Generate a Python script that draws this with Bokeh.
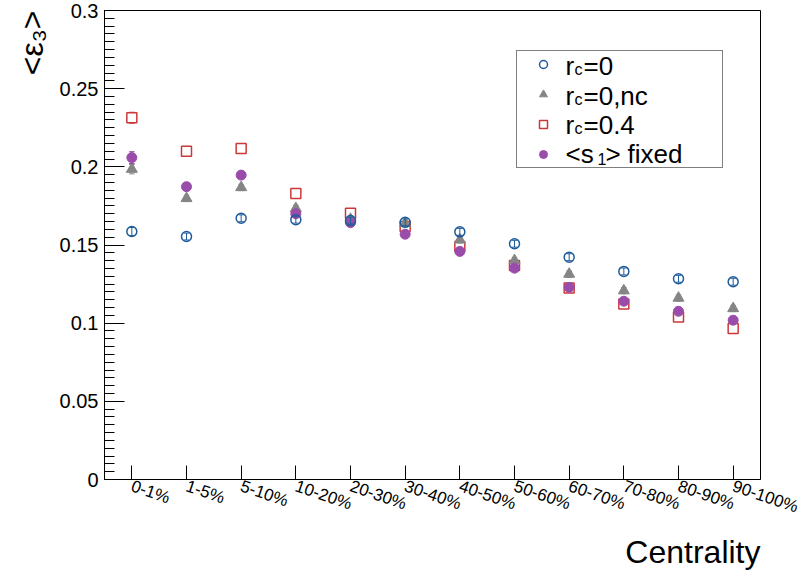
from bokeh.plotting import figure
from bokeh.models import (ColumnDataSource, FixedTicker, Range1d, Legend,
                          LegendItem, Label, Title)
from bokeh.embed import file_html
from bokeh.resources import INLINE

# ---------------- data ----------------
centrality = ["0-1%", "1-5%", "5-10%", "10-20%", "20-30%", "30-40%",
              "40-50%", "50-60%", "60-70%", "70-80%", "80-90%", "90-100%"]

rc0 = [0.1586, 0.1554, 0.1671, 0.1662, 0.1656, 0.1645,
       0.1584, 0.1508, 0.1422, 0.1331, 0.1284, 0.1265]
rc0_err = [0.0026, 0.0022, 0.0022, 0.0022, 0.0022, 0.0022,
           0.0022, 0.0022, 0.0022, 0.0022, 0.0022, 0.0022]

rc0nc = [0.1985, 0.1798, 0.1868, 0.1734, 0.1665, 0.1639,
         0.1533, 0.1401, 0.1314, 0.1208, 0.1161, 0.1094]
rc0nc_err = [0.0030, 0.0020, 0.0020, 0.0020, 0.0020, 0.0020,
             0.0020, 0.0020, 0.0020, 0.0020, 0.0020, 0.0020]

rc04 = [0.2314, 0.2100, 0.2117, 0.1830, 0.1703, 0.1618,
        0.1490, 0.1369, 0.1225, 0.1123, 0.1040, 0.0966]
rc04_err = [0.0035, 0.0020, 0.0020, 0.0020, 0.0020, 0.0020,
            0.0020, 0.0020, 0.0020, 0.0020, 0.0020, 0.0020]

s1fixed = [0.2059, 0.1873, 0.1947, 0.1700, 0.1643, 0.1569,
           0.1459, 0.1352, 0.1229, 0.1140, 0.1076, 0.1019]
s1fixed_err = [0.0038, 0.0020, 0.0020, 0.0020, 0.0020, 0.0020,
               0.0020, 0.0020, 0.0020, 0.0020, 0.0020, 0.0020]

y_ticks = [0.0, 0.05, 0.1, 0.15, 0.2, 0.25, 0.3]
y_tick_labels = ["0", "0.05", "0.1", "0.15", "0.2", "0.25", "0.3"]

# ---------------- style ----------------
FONT = "Liberation Sans"
BLUE = "#1f5c9c"
GRAY = "#858585"
RED = "#cc3838"
PURPLE = "#9a4cab"

FRAME_LEFT = 104      # canvas px of the frame's left edge
FRAME_BOTTOM = 479    # canvas px of the frame's bottom edge

xs = list(range(len(centrality)))

p = figure(width=803, height=572, output_backend="svg", toolbar_location=None,
           x_range=Range1d(-0.5, len(centrality) - 0.5), y_range=Range1d(0, 0.3),
           min_border_left=FRAME_LEFT, min_border_right=43, min_border_top=10,
           min_border_bottom=572 - FRAME_BOTTOM)
p.grid.visible = False
p.outline_line_color = "black"
p.outline_line_width = 1
p.background_fill_color = "white"
p.border_fill_color = "white"

# y axis
ya = p.yaxis[0]
minor = [round(0.005 * k, 4) for k in range(0, 61)]
ya.ticker = FixedTicker(ticks=y_ticks, minor_ticks=minor)
ya.major_label_overrides = {t: l for t, l in zip(y_ticks, y_tick_labels)}
ya.major_tick_in = 20
ya.major_tick_out = 0
ya.minor_tick_in = 10
ya.minor_tick_out = 0
ya.major_label_text_font = FONT
ya.major_label_text_font_size = "20px"
ya.major_label_text_color = "black"
ya.major_label_standoff = 6
ya.axis_line_color = "black"
ya.major_tick_line_color = "black"
ya.minor_tick_line_color = "black"

# x axis
xa = p.xaxis[0]
xa.ticker = FixedTicker(ticks=xs, minor_ticks=[])
xa.major_label_overrides = {i: c for i, c in enumerate(centrality)}
xa.major_label_orientation = -0.33
xa.major_tick_in = 14
xa.major_tick_out = 0
xa.minor_tick_line_color = None
xa.major_label_text_font = FONT
xa.major_label_text_font_size = "17px"
xa.major_label_text_color = "black"
xa.major_label_standoff = 6
xa.axis_line_color = "black"
xa.major_tick_line_color = "black"

# axis titles
x_title = Title(text="Centrality", align="right", text_font=FONT,
                text_font_size="32px", text_font_style="normal",
                text_color="black")
y_title = Title(text="<\u03b5\u2083>", align="right", text_font=FONT,
                text_font_size="32px", text_font_style="normal",
                text_color="black")
if "standoff" in Title.properties():
    x_title.standoff = 6
    y_title.standoff = 13
p.add_layout(x_title, "below")
p.add_layout(y_title, "left")


def err_src(vals, errs):
    return ColumnDataSource(dict(
        x=xs, y=vals,
        lo=[v - e for v, e in zip(vals, errs)],
        hi=[v + e for v, e in zip(vals, errs)],
        cl=[x - 0.05 for x in xs], cr=[x + 0.05 for x in xs]))


def draw_err(src, color):
    p.segment(x0="x", x1="x", y0="lo", y1="hi", source=src, line_color=color, line_width=1)
    p.segment(x0="cl", x1="cr", y0="lo", y1="lo", source=src, line_color=color, line_width=1)
    p.segment(x0="cl", x1="cr", y0="hi", y1="hi", source=src, line_color=color, line_width=1)


s_rc04 = err_src(rc04, rc04_err)
s_nc = err_src(rc0nc, rc0nc_err)
s_s1 = err_src(s1fixed, s1fixed_err)
s_rc0 = err_src(rc0, rc0_err)

draw_err(s_rc04, RED)
r_sq = p.scatter("x", "y", source=s_rc04, marker="square", size=10,
                 fill_color="white", line_color=RED, line_width=1.5)
draw_err(s_nc, GRAY)
r_tri = p.scatter("x", "y", source=s_nc, marker="triangle", size=11,
                  fill_color=GRAY, line_color=GRAY)
draw_err(s_s1, PURPLE)
r_dot = p.scatter("x", "y", source=s_s1, marker="circle", size=10,
                  fill_color=PURPLE, line_color=PURPLE)
draw_err(s_rc0, BLUE)
r_circ = p.scatter("x", "y", source=s_rc0, marker="circle", size=10,
                   fill_color=None, line_color=BLUE, line_width=1.5)

# legend (markers + box); texts with subscripts drawn as labels on top
legend = Legend(items=[LegendItem(label=" ", renderers=[r_circ]),
                       LegendItem(label=" ", renderers=[r_tri]),
                       LegendItem(label=" ", renderers=[r_sq]),
                       LegendItem(label=" ", renderers=[r_dot])],
                location=(412, 311))
legend.margin = 0
legend.padding = 3
legend.spacing = 10
legend.glyph_height = 20
legend.glyph_width = 46
legend.label_height = 20
legend.label_width = 148
legend.label_standoff = 5
legend.label_text_font_size = "4px"
legend.border_line_color = "black"
legend.border_line_width = 1
legend.background_fill_alpha = 0
p.add_layout(legend)


def add_text(txt, px, py, size):
    p.add_layout(Label(x=px - FRAME_LEFT, y=FRAME_BOTTOM - py,
                       x_units="screen", y_units="screen", text=txt,
                       text_font=FONT, text_font_size=f"{size}px",
                       text_color="black", text_align="left",
                       text_baseline="alphabetic"))


# legend texts
for base, rest in [(65, "=0"), (95, "=0,nc"), (124, "=0.4")]:
    add_text("r", 565, base, 26)
    add_text("c", 574, base + 4, 16)
    add_text(rest, 583, base, 26)
add_text("<s", 565, 153, 26)
add_text("1", 597, 158, 16)
add_text(">", 605, 153, 26)
add_text("fixed", 627, 153, 26)

open("out.html", "w").write(file_html(p, INLINE))
